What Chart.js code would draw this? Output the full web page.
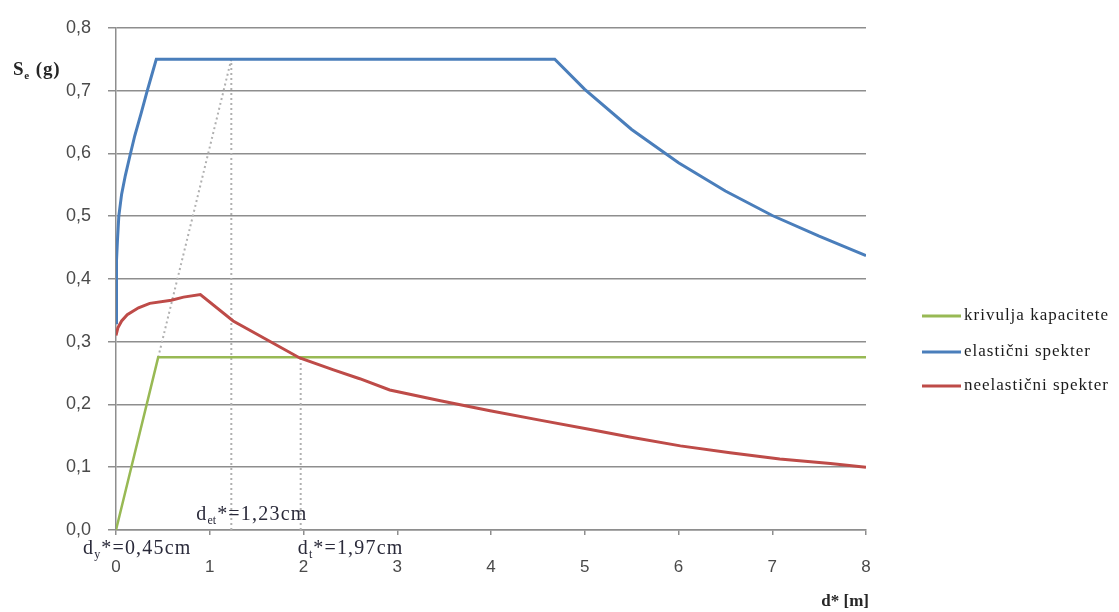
<!DOCTYPE html>
<html>
<head>
<meta charset="utf-8">
<script src="https://cdn.jsdelivr.net/npm/chart.js@4.4.1/dist/chart.umd.min.js"></script>
<style>
  html, body { margin: 0; padding: 0; background: #fff; }
  canvas { display: block; }
</style>
</head>
<body>
<canvas id="c" width="1119" height="612"></canvas>
<script>
// Kapacitetna krivulja ter elastični in neelastični spekter (format ADRS)
const capacityD  = [0, 0.45, 8];
const capacitySe = [0, 0.275, 0.275];

const elasticD  = [0, 0.003, 0.008, 0.015, 0.03, 0.06, 0.1, 0.15, 0.2, 0.27, 0.33, 0.38, 0.43,
                   4.68, 5.0, 5.5, 6.0, 6.5, 7.0, 7.5, 8.0];
const elasticSe = [0.33, 0.38, 0.43, 0.46, 0.50, 0.535, 0.565, 0.597, 0.628, 0.665, 0.698, 0.724, 0.75,
                   0.75, 0.702, 0.638, 0.585, 0.54, 0.501, 0.468, 0.437];

const inelasticD  = [0, 0.02, 0.06, 0.12, 0.24, 0.36, 0.59, 0.72, 0.9, 1.25, 1.61, 1.96, 2.32, 2.6, 2.92,
                     3.46, 3.99, 4.52, 5.06, 5.48, 6.02, 6.55, 7.08, 7.62, 8.0];
const inelasticSe = [0.31, 0.322, 0.333, 0.343, 0.354, 0.361, 0.366, 0.371, 0.375, 0.333, 0.303, 0.274, 0.255,
                     0.241, 0.223, 0.206, 0.19, 0.175, 0.16, 0.148, 0.134, 0.123, 0.113, 0.106, 0.1];

const xTicks = [0, 1, 2, 3, 4, 5, 6, 7, 8];
const yTicks = [0, 0.1, 0.2, 0.3, 0.4, 0.5, 0.6, 0.7, 0.8];

// Karakteristični pomiki
const dY = 0.45, dEt = 1.23, dT = 1.97;
const seYield = 0.275, seElastic = 0.75;

const seriesNames = ['krivulja kapacitete', 'elastični spekter', 'neelastični spekter'];
const seriesColors = ['#98b954', '#4a7ebb', '#be4b48'];

const pts = (xs, ys) => xs.map((x, i) => ({ x: x, y: ys[i] }));
const fmt = v => v.toFixed(2).replace('.', ',');

const guideStyle = {
  borderColor: '#b0b0b0', borderWidth: 2, borderDash: [2, 3],
  pointRadius: 0, fill: false, tension: 0
};
const curveStyle = (color, w) => ({
  borderColor: color, backgroundColor: color, borderWidth: w,
  pointRadius: 0, fill: false, tension: 0
});

const SERIF = '"Liberation Serif", "Times New Roman", serif';
const SANS = '"Liberation Sans", Arial, sans-serif';

// Besedilo z indeksom: osnova, indeks, nadaljevanje
function subText(ctx, x, y, base, sub, rest, size, bold, spacing) {
  const w = bold ? 'bold ' : '';
  ctx.letterSpacing = spacing + 'px';
  ctx.font = w + size + 'px ' + SERIF;
  ctx.fillText(base, x, y);
  x += ctx.measureText(base).width;
  ctx.letterSpacing = '0px';
  ctx.font = w + Math.round(size * 0.6) + 'px ' + SERIF;
  ctx.fillText(sub, x, y + size * 0.2);
  x += ctx.measureText(sub).width + 1;
  ctx.letterSpacing = spacing + 'px';
  ctx.font = w + size + 'px ' + SERIF;
  ctx.fillText(rest, x, y);
  ctx.letterSpacing = '0px';
}

const extras = {
  id: 'extras',
  afterDraw(chart) {
    const ctx = chart.ctx;
    const xs = chart.scales.x;
    const area = chart.chartArea;
    ctx.save();
    ctx.textBaseline = 'alphabetic';
    ctx.textAlign = 'left';

    // Oznake pomikov
    ctx.fillStyle = '#2a2a3a';
    subText(ctx, xs.getPixelForValue(dEt) - 35, area.bottom - 10, 'd', 'et', '*=' + fmt(dEt) + 'cm', 20, false, 1.2);
    subText(ctx, xs.getPixelForValue(0) - 33, area.bottom + 24, 'd', 'y', '*=' + fmt(dY) + 'cm', 20, false, 1.2);
    subText(ctx, xs.getPixelForValue(dT) - 3, area.bottom + 24, 'd', 't', '*=' + fmt(dT) + 'cm', 20, false, 1.2);

    // Naslova osi
    ctx.fillStyle = '#262626';
    subText(ctx, 13, 75, 'S', 'e', ' (g)', 19, true, 0.8);
    ctx.font = 'bold 17px ' + SERIF;
    ctx.textAlign = 'right';
    ctx.fillText('d* [m]', area.right + 3, 606);

    // Legenda
    ctx.textAlign = 'left';
    ctx.textBaseline = 'middle';
    const legendY = [316, 352, 386];
    seriesNames.forEach((name, i) => {
      ctx.strokeStyle = seriesColors[i];
      ctx.lineWidth = 3;
      ctx.beginPath();
      ctx.moveTo(922, legendY[i]);
      ctx.lineTo(961, legendY[i]);
      ctx.stroke();
      ctx.fillStyle = '#1a1a1a';
      ctx.letterSpacing = '1px';
      ctx.font = '17px ' + SERIF;
      ctx.fillText(name, 964, legendY[i]);
      ctx.letterSpacing = '0px';
    });
    ctx.restore();
  }
};

new Chart(document.getElementById('c'), {
  type: 'line',
  data: {
    datasets: [
      Object.assign({ label: seriesNames[2], data: pts(inelasticD, inelasticSe) }, curveStyle(seriesColors[2], 3)),
      Object.assign({ label: seriesNames[1], data: pts(elasticD, elasticSe) }, curveStyle(seriesColors[1], 3)),
      Object.assign({ label: seriesNames[0], data: pts(capacityD, capacitySe) }, curveStyle(seriesColors[0], 2.5)),
      Object.assign({ label: 'g1', data: pts([dY, dEt], [seYield, seElastic]) }, guideStyle),
      Object.assign({ label: 'g2', data: pts([dEt, dEt], [0, seElastic]) }, guideStyle),
      Object.assign({ label: 'g3', data: pts([dT, dT], [0, seYield]) }, guideStyle)
    ]
  },
  options: {
    responsive: false,
    animation: false,
    devicePixelRatio: 1,
    layout: { padding: { left: 0, right: 253, top: 22, bottom: 0 } },
    plugins: { legend: { display: false }, tooltip: { enabled: false } },
    scales: {
      x: {
        type: 'linear',
        min: xTicks[0], max: xTicks[xTicks.length - 1],
        afterBuildTicks: s => { s.ticks = xTicks.map(v => ({ value: v })); },
        afterFit: s => { s.height = 82; },
        ticks: {
          callback: v => String(v),
          color: '#4a4a4a',
          font: { family: SANS, size: 17 },
          padding: 22,
          maxRotation: 0
        },
        grid: { drawOnChartArea: false, drawTicks: true, tickLength: 5, color: '#8e8e8e', lineWidth: 1.5 },
        border: { display: true, color: '#8e8e8e', width: 1.5 }
      },
      y: {
        min: yTicks[0], max: yTicks[yTicks.length - 1],
        afterBuildTicks: s => { s.ticks = yTicks.map(v => ({ value: v })); },
        afterFit: s => { s.width = 116; },
        ticks: {
          callback: v => v.toFixed(1).replace('.', ','),
          color: '#4a4a4a',
          font: { family: SANS, size: 18 },
          padding: 17
        },
        grid: { color: '#8e8e8e', lineWidth: 1.5, tickLength: 8 },
        border: { display: true, color: '#8e8e8e', width: 1.5 }
      }
    }
  },
  plugins: [extras]
});
</script>
</body>
</html>
